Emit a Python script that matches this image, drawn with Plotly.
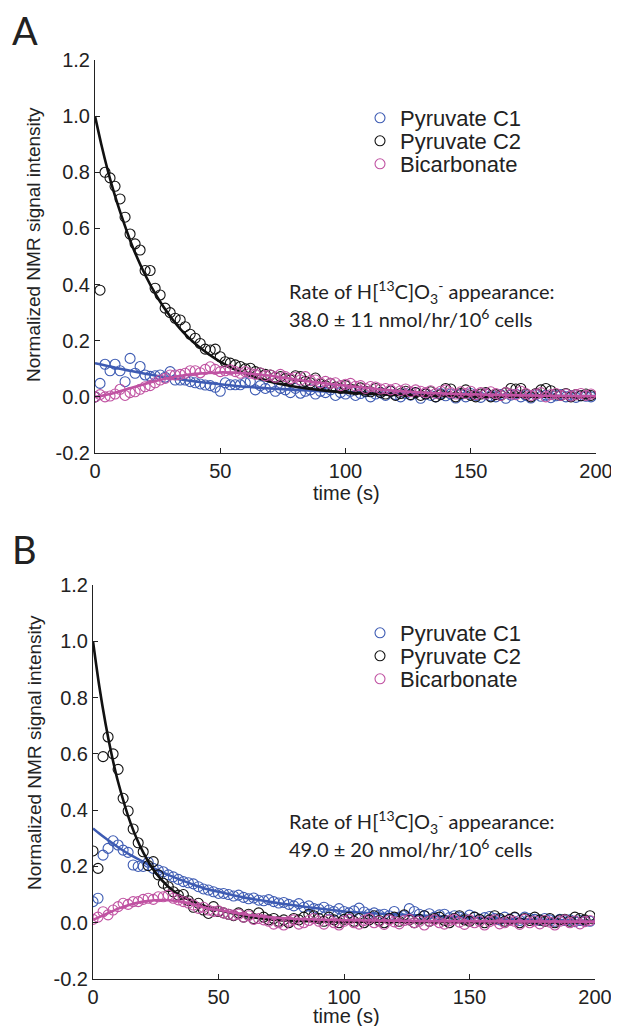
import plotly.graph_objects as go

# ---------------- data ----------------
t = list(range(0, 200, 2))  # acquisition times (s)

# Panel A
c1_A = [0.0, 0.048, 0.116, 0.093, 0.116, 0.093, 0.054, 0.137, 0.084, 0.108,
        0.078, 0.073, 0.075, 0.078, 0.07, 0.09, 0.06, 0.06, 0.06, 0.054,
        0.05, 0.046, 0.042, 0.04, 0.034, 0.02, 0.05, 0.043, 0.043, 0.043,
        0.05, 0.055, 0.025, 0.04, 0.03, 0.035, 0.02, 0.03, 0.025, 0.015,
        0.03, 0.013, 0.02, 0.025, 0.01, 0.02, 0.015, 0.025, 0.005, 0.015,
        0.01, 0.02, 0.005, 0.012, 0.018, 0.0, 0.01, 0.015, 0.005, 0.02,
        0.008, 0.0, 0.012, 0.006, 0.015, -0.005, 0.01, 0.005, 0.0, 0.012,
        0.004, 0.01, -0.004, 0.008, 0.0, 0.012, 0.005, -0.002, 0.01, 0.004,
        0.0, 0.008, -0.005, 0.006, 0.01, 0.0, 0.005, -0.004, 0.008, 0.002,
        0.006, -0.003, 0.004, 0.008, 0.0, 0.005, -0.002, 0.004, 0.002, 0.0]
c2_A = [0.0, 0.38, 0.80, 0.78, 0.75, 0.705, 0.64, 0.58, 0.545, 0.523,
        0.45, 0.45, 0.387, 0.363, 0.316, 0.30, 0.28, 0.274, 0.25, 0.223,
        0.209, 0.19, 0.17, 0.167, 0.17, 0.143, 0.125, 0.12, 0.114, 0.108,
        0.10, 0.102, 0.09, 0.085, 0.08, 0.078, 0.07, 0.072, 0.065, 0.06,
        0.075, 0.072, 0.055, 0.05, 0.067, 0.045, 0.04, 0.048, 0.035, 0.03,
        0.04, 0.028, 0.025, 0.032, 0.02, 0.018, 0.03, 0.015, 0.01, 0.02,
        0.005, 0.012, 0.02, 0.008, 0.015, 0.005, 0.01, 0.018, 0.0, 0.008,
        0.03, 0.028, 0.0, 0.012, 0.025, 0.005, 0.0, 0.01, 0.015, 0.0,
        0.008, 0.005, 0.015, 0.03, 0.028, 0.03, 0.01, 0.0, 0.012, 0.025,
        0.03, 0.022, 0.01, 0.005, 0.012, 0.0, 0.008, 0.004, 0.01, 0.005]
bic_A = [0.0, 0.008, 0.0, 0.003, 0.01, 0.027, 0.005, 0.015, 0.018, 0.027,
         0.036, 0.04, 0.05, 0.06, 0.066, 0.078, 0.078, 0.08, 0.084, 0.093,
         0.093, 0.086, 0.098, 0.107, 0.098, 0.09, 0.093, 0.096, 0.09, 0.084,
         0.09, 0.084, 0.08, 0.085, 0.075, 0.078, 0.07, 0.08, 0.072, 0.065,
         0.07, 0.06, 0.072, 0.058, 0.06, 0.05, 0.055, 0.048, 0.05, 0.04,
         0.045, 0.048, 0.038, 0.04, 0.03, 0.037, 0.035, 0.028, 0.03, 0.025,
         0.03, 0.022, 0.028, 0.018, 0.025, 0.02, 0.015, 0.022, 0.012, 0.02,
         0.025, 0.015, 0.01, 0.018, 0.012, 0.02, 0.008, 0.015, 0.01, 0.018,
         0.012, 0.005, 0.015, 0.01, 0.008, 0.02, 0.012, 0.005, 0.01, 0.015,
         0.0, 0.008, 0.012, 0.005, 0.01, 0.003, 0.008, 0.012, 0.005, 0.01]

# Panel B
c1_B = [0.075, 0.087, 0.24, 0.264, 0.291, 0.276, 0.258, 0.25, 0.205, 0.20,
        0.20, 0.215, 0.193, 0.187, 0.181, 0.17, 0.163, 0.154, 0.146, 0.142,
        0.138, 0.128, 0.12, 0.116, 0.11, 0.104, 0.104, 0.10, 0.095, 0.098,
        0.09, 0.085, 0.088, 0.08, 0.078, 0.082, 0.075, 0.07, 0.072, 0.065,
        0.06, 0.068, 0.055, 0.06, 0.05, 0.048, 0.055, 0.045, 0.04, 0.05,
        0.04, 0.035, 0.042, 0.052, 0.038, 0.03, 0.035, 0.028, 0.03, 0.025,
        0.04, 0.02, 0.025, 0.05, 0.04, 0.03, 0.025, 0.032, 0.02, 0.028,
        0.03, 0.018, 0.025, 0.02, 0.015, 0.027, 0.02, 0.012, 0.018, 0.022,
        0.015, 0.01, 0.02, 0.012, 0.018, 0.008, 0.02, 0.015, 0.012, 0.008,
        0.015, 0.01, 0.005, 0.012, 0.008, 0.01, 0.004, 0.008, 0.006, 0.005]
c2_B = [0.255, 0.193, 0.59, 0.66, 0.60, 0.545, 0.442, 0.397, 0.333, 0.284,
        0.252, 0.203, 0.217, 0.17, 0.14, 0.128, 0.11, 0.098, 0.10, 0.078,
        0.055, 0.069, 0.045, 0.033, 0.057, 0.04, 0.035, 0.03, 0.025, 0.035,
        0.02, 0.03, 0.015, 0.035, 0.02, 0.01, 0.015, 0.005, 0.01, 0.0,
        0.015, 0.01, 0.02, 0.03, 0.025, 0.015, 0.005, 0.02, 0.01, 0.0,
        0.012, 0.02, 0.005, 0.015, 0.0, 0.01, 0.025, 0.008, 0.0, 0.015,
        0.02, 0.005, 0.028, 0.01, 0.0, 0.012, 0.025, 0.005, 0.015, 0.02,
        0.008, 0.0, 0.015, 0.025, 0.01, 0.005, 0.02, 0.012, 0.0, 0.01,
        0.025, 0.015, 0.005, 0.012, 0.02, 0.0, 0.015, 0.008, 0.02, 0.01,
        0.005, 0.015, 0.0, 0.01, 0.012, 0.005, 0.02, 0.015, 0.01, 0.025]
bic_B = [0.012, 0.02, 0.039, 0.028, 0.045, 0.057, 0.069, 0.065, 0.075, 0.075,
         0.083, 0.087, 0.083, 0.092, 0.092, 0.098, 0.087, 0.081, 0.075, 0.07,
         0.063, 0.051, 0.055, 0.045, 0.04, 0.042, 0.035, 0.03, 0.027, 0.03,
         0.02, 0.025, 0.012, 0.015, 0.01, 0.005, -0.005, 0.0, -0.008, 0.005,
         0.01, -0.005, 0.0, 0.008, 0.015, 0.005, -0.005, 0.01, 0.0, -0.008,
         0.005, 0.012, 0.0, -0.005, 0.008, 0.015, 0.0, 0.005, -0.006, 0.01,
         0.003, -0.004, 0.008, 0.012, 0.0, 0.005, -0.008, 0.006, 0.01, 0.0,
         -0.005, 0.008, 0.012, 0.002, -0.006, 0.01, 0.0, 0.005, -0.008, 0.004,
         0.01, -0.004, 0.0, 0.008, 0.005, -0.006, 0.012, 0.0, 0.006, -0.004,
         0.008, 0.002, -0.008, 0.005, 0.01, 0.0, 0.006, -0.004, 0.004, 0.008]

# fitted curves (sampled)
tf_A = [0, 2.5, 5, 7.5, 10, 15, 20, 25, 30, 35, 40, 50, 60, 70, 80, 90, 100,
        120, 140, 160, 180, 200]
fit_c2_A = [1.0, 0.90, 0.81, 0.73, 0.66, 0.535, 0.435, 0.353, 0.287, 0.232,
            0.189, 0.125, 0.082, 0.054, 0.036, 0.024, 0.016, 0.007, 0.003,
            0.001, 0.0005, 0.0]
fit_c1_A = [0.12, 0.115, 0.11, 0.105, 0.10, 0.091, 0.082, 0.074, 0.067, 0.061,
            0.055, 0.045, 0.036, 0.030, 0.025, 0.020, 0.017, 0.012, 0.009,
            0.006, 0.004, 0.003]
fit_bic_A = [0.0, 0.003, 0.008, 0.014, 0.02, 0.033, 0.046, 0.058, 0.068,
             0.076, 0.082, 0.087, 0.084, 0.075, 0.062, 0.05, 0.04, 0.022,
             0.012, 0.007, 0.004, 0.002]

tf_B = [0, 2.5, 5, 7.5, 10, 15, 20, 25, 30, 35, 40, 46, 50, 60, 70, 80, 100,
        120, 150, 200]
fit_c2_B = [1.0, 0.84, 0.707, 0.594, 0.50, 0.353, 0.25, 0.177, 0.128, 0.095,
            0.075, 0.055, 0.045, 0.025, 0.012, 0.007, 0.004, 0.003, 0.002,
            0.001]
fit_c1_B = [0.335, 0.317, 0.30, 0.284, 0.268, 0.24, 0.217, 0.19, 0.17, 0.152,
            0.135, 0.118, 0.11, 0.09, 0.075, 0.062, 0.04, 0.03, 0.018, 0.006]
fit_bic_B = [0.01, 0.02, 0.03, 0.04, 0.05, 0.065, 0.075, 0.08, 0.08, 0.075,
             0.065, 0.05, 0.045, 0.03, 0.02, 0.014, 0.009, 0.007, 0.005, 0.004]

yticks = [-0.2, 0.0, 0.2, 0.4, 0.6, 0.8, 1.0, 1.2]
yticks_lbl = ["-0.2", "0.0", "0.2", "0.4", "0.6", "0.8", "1.0", "1.2"]
xticks = [0, 50, 100, 150, 200]
names = ["Pyruvate C1", "Pyruvate C2", "Bicarbonate"]
rate_text = ["38.0 \u00b1 11 nmol/hr/10<sup>6</sup> cells",
             "49.0 \u00b1 20 nmol/hr/10<sup>6</sup> cells"]

# ---------------- style ----------------
VW, VH = 619, 1026          # browser viewport
OFF = 8                     # default page body margin
W, H = VW - OFF, VH - OFF   # figure size so that it fills the viewport
BLUE = "#3D5BB3"
BLACK = "#111111"
PINK = "#C052A2"
AX = "#222222"
SANS = "Liberation Sans, Arial, sans-serif"
TICKFONT = dict(family=SANS, size=20, color=AX)
TXTFONT = "Lato, Open Sans, sans-serif"

def px_x(p):
    return (p - OFF) / W

def px_y(p):
    return 1 - (p - OFF) / H

panels = [
    dict(xd=(95, 596), yd=(60, 453), c1=c1_A, c2=c2_A, bic=bic_A,
         tf=tf_A, f1=fit_c1_A, f2=fit_c2_A, fb=fit_bic_A,
         letter="A", letter_y=30, ylab_y=245, xlab_y=493,
         rate_y=(292, 318), leg_y=(118, 141, 164)),
    dict(xd=(93, 595), yd=(585, 979), c1=c1_B, c2=c2_B, bic=bic_B,
         tf=tf_B, f1=fit_c1_B, f2=fit_c2_B, fb=fit_bic_B,
         letter="B", letter_y=549, ylab_y=753, xlab_y=1016,
         rate_y=(822, 848), leg_y=(633, 656, 679)),
]

fig = go.Figure()
layout = dict(width=W, height=H,
              margin=dict(l=0, r=0, t=0, b=0, pad=0, autoexpand=False),
              paper_bgcolor="white", plot_bgcolor="white")
annotations = []

for i, p in enumerate(panels):
    sfx = "" if i == 0 else "2"
    xa, ya = "x" + sfx, "y" + sfx
    layout["xaxis" + sfx] = dict(
        domain=[px_x(p["xd"][0]), px_x(p["xd"][1])], range=[0, 200],
        anchor=ya, showline=True, linecolor=AX, linewidth=1, mirror=False,
        ticks="inside", ticklen=5, tickcolor=AX, tickwidth=1,
        tickvals=xticks, showgrid=False, zeroline=False, tickfont=TICKFONT,
        automargin=False)
    layout["yaxis" + sfx] = dict(
        domain=[px_y(p["yd"][1]), px_y(p["yd"][0])], range=[-0.2, 1.2],
        anchor=xa, showline=True, linecolor=AX, linewidth=1,
        ticks="inside", ticklen=5, tickcolor=AX, tickwidth=1,
        tickvals=yticks, ticktext=yticks_lbl, showgrid=False, zeroline=False,
        tickfont=TICKFONT, automargin=False)

    series = [(p["c1"], p["f1"], BLUE, names[0]),
              (p["c2"], p["f2"], BLACK, names[1]),
              (p["bic"], p["fb"], PINK, names[2])]
    for k, (dat, fit, col, nm) in enumerate(series):
        n = i * 3 + k
        leg = "legend" + ("" if n == 0 else str(n + 1))
        fig.add_trace(go.Scatter(
            x=t, y=dat, mode="markers", name=nm, xaxis=xa, yaxis=ya,
            marker=dict(symbol="circle-open", size=10, color=col,
                        line=dict(width=1.1, color=col)),
            showlegend=True, legend=leg))
        fig.add_trace(go.Scatter(
            x=p["tf"], y=fit, mode="lines", xaxis=xa, yaxis=ya,
            line=dict(color=col, width=2.6, shape="spline", smoothing=0.8),
            showlegend=False, hoverinfo="skip"))
        layout[leg] = dict(
            x=px_x(360), y=px_y(p["leg_y"][k]), xanchor="left",
            yanchor="middle", bgcolor="rgba(0,0,0,0)", borderwidth=0,
            font=dict(family=SANS, size=22, color=AX),
            itemwidth=30, tracegroupgap=0)

    # panel letter
    annotations.append(dict(
        text=p["letter"], x=px_x(10), y=px_y(p["letter_y"]), xref="paper",
        yref="paper", xanchor="left", yanchor="middle", showarrow=False,
        font=dict(family=TXTFONT, size=38, color=AX)))
    # y label
    annotations.append(dict(
        text="Normalized NMR signal intensity", x=px_x(34),
        y=px_y(p["ylab_y"]), xref="paper", yref="paper", textangle=-90,
        xanchor="center", yanchor="middle", showarrow=False,
        font=dict(family=SANS, size=19, color=AX)))
    # x label
    annotations.append(dict(
        text="time (s)", x=px_x(346), y=px_y(p["xlab_y"]), xref="paper",
        yref="paper", xanchor="center", yanchor="middle", showarrow=False,
        font=dict(family=SANS, size=20, color=AX)))
    # rate annotation
    annotations.append(dict(
        text="Rate of H[<sup>13</sup>C]O<sub>3</sub><sup>-</sup> appearance:",
        x=px_x(287), y=px_y(p["rate_y"][0]), xref="paper", yref="paper",
        xanchor="left", yanchor="middle", showarrow=False,
        font=dict(family=TXTFONT, size=20, color=AX)))
    annotations.append(dict(
        text=rate_text[i], x=px_x(287), y=px_y(p["rate_y"][1]),
        xref="paper", yref="paper", xanchor="left", yanchor="middle",
        showarrow=False, font=dict(family=TXTFONT, size=20, color=AX)))

layout["annotations"] = annotations
fig.update_layout(**layout)
fig.write_html("out.html")
